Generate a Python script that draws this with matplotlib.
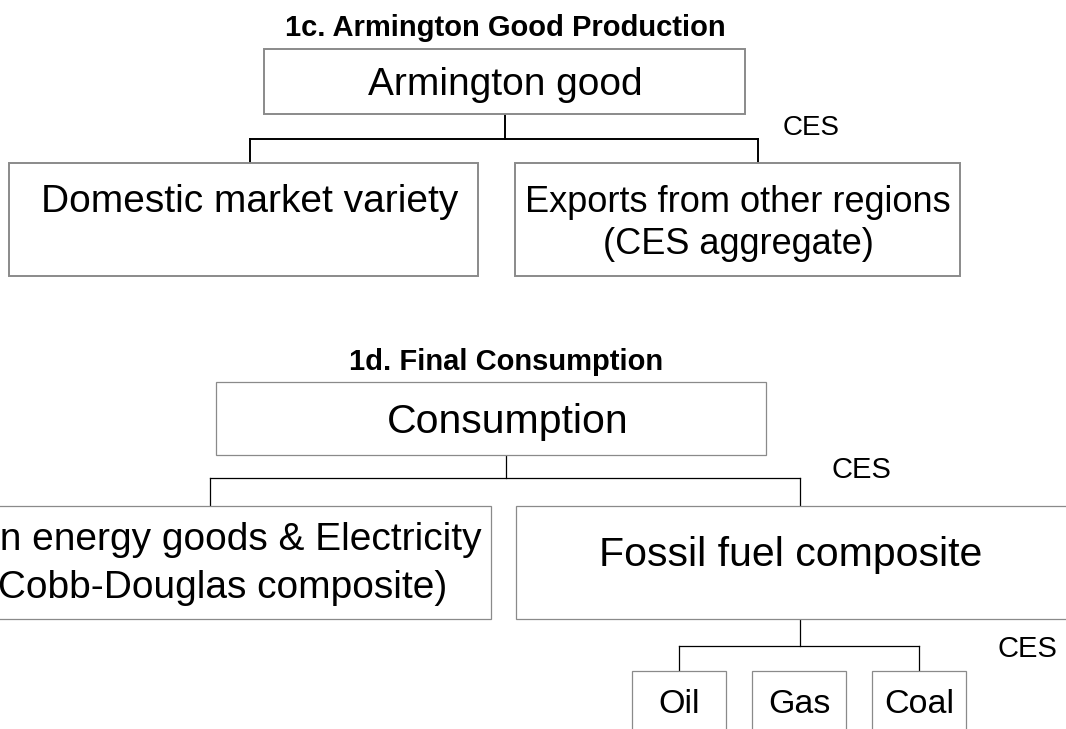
import matplotlib
matplotlib.use("Agg")
import matplotlib.pyplot as plt
from matplotlib.patches import Rectangle

# ==========================================
# 1. DIAGRAM CONTENT
# ==========================================
titles = ["1c. Armington Good Production", "1d. Final Consumption"]
armington_top = "Armington good"
armington_inputs = ["Domestic market variety",
                    "Exports from other regions\n(CES aggregate)"]
consumption_top = "Consumption"
consumption_inputs = ["Non energy goods & Electricity\n(Cobb-Douglas composite)",
                      "Fossil fuel composite"]
fossil_inputs = ["Oil", "Gas", "Coal"]
nest_type = "CES"

# ==========================================
# 2. LAYOUT (pixel coordinates, y grows downwards)
# ==========================================
W, H = 1066, 729
BOX_EDGE = "#8a8a8a"

# boxes: (left, top, right, bottom), text centre x, line baselines, font size
lay_arm_top = dict(box=(264, 49, 745, 114), cx=505, base=[95], size=28)
lay_arm_in = [dict(box=(9, 163, 478, 276), cx=250, base=[212], size=28)
              , dict(box=(515, 163, 960, 276), cx=738, base=[212, 254], size=26)]
lay_con_top = dict(box=(216, 382, 766, 455), cx=508, base=[433], size=29.5)
# the left box runs off the canvas, as in the original figure
lay_con_in = [dict(box=(-60, 506, 491, 619), cx=216, base=[550, 598], size=28),
              dict(box=(516, 506, 1070, 619), cx=791, base=[566], size=29.5)]
lay_fuel = [dict(box=(632, 671, 726, 760), cx=679, base=[713], size=24.5),
            dict(box=(752, 671, 846, 760), cx=799, base=[713], size=24.5),
            dict(box=(872, 671, 966, 760), cx=919, base=[713], size=24.5)]

fig = plt.figure(figsize=(W / 100, H / 100), dpi=100)
ax = fig.add_axes([0, 0, 1, 1])
ax.set_xlim(0, W)
ax.set_ylim(H, 0)
ax.axis("off")

FONT = "Liberation Sans"


def draw_box(label, lay, lw):
    l, t, r, b = lay["box"]
    ax.add_patch(Rectangle((l, t), r - l, b - t, facecolor="white",
                           edgecolor=BOX_EDGE, linewidth=lw, zorder=2))
    for line, y in zip(label.split("\n"), lay["base"]):
        ax.text(lay["cx"], y, line, ha="center", va="baseline",
                fontsize=lay["size"], family=FONT, color="black", zorder=3)


def draw_tree(parent_x, parent_y, bar_y, child_xs, child_y, lw):
    ax.plot([parent_x, parent_x], [parent_y, bar_y], color="black", lw=lw, zorder=1)
    ax.plot([min(child_xs), max(child_xs)], [bar_y, bar_y], color="black", lw=lw, zorder=1)
    for x in child_xs:
        ax.plot([x, x], [bar_y, child_y], color="black", lw=lw, zorder=1)


# --- 1c. Armington good ---
ax.text(505, 36, titles[0], ha="center", va="baseline", fontsize=21,
        fontweight="bold", family=FONT)
draw_tree(505, 114, 139, [250, 758], 163, 1.4)
draw_box(armington_top, lay_arm_top, 1.4)
for label, lay in zip(armington_inputs, lay_arm_in):
    draw_box(label, lay, 1.4)
ax.text(811, 135, nest_type, ha="center", va="baseline", fontsize=20, family=FONT)

# --- 1d. Final consumption ---
ax.text(506, 370, titles[1], ha="center", va="baseline", fontsize=21,
        fontweight="bold", family=FONT)
draw_tree(506, 455, 478, [210, 800], 506, 0.9)
draw_box(consumption_top, lay_con_top, 0.9)
for label, lay in zip(consumption_inputs, lay_con_in):
    draw_box(label, lay, 0.9)
ax.text(861, 478, nest_type, ha="center", va="baseline", fontsize=21, family=FONT)

draw_tree(800, 619, 646, [679, 919], 671, 0.9)
for label, lay in zip(fossil_inputs, lay_fuel):
    draw_box(label, lay, 0.9)
ax.text(1027, 657, nest_type, ha="center", va="baseline", fontsize=21, family=FONT)

fig.savefig("out.png", dpi=100, facecolor="white")
